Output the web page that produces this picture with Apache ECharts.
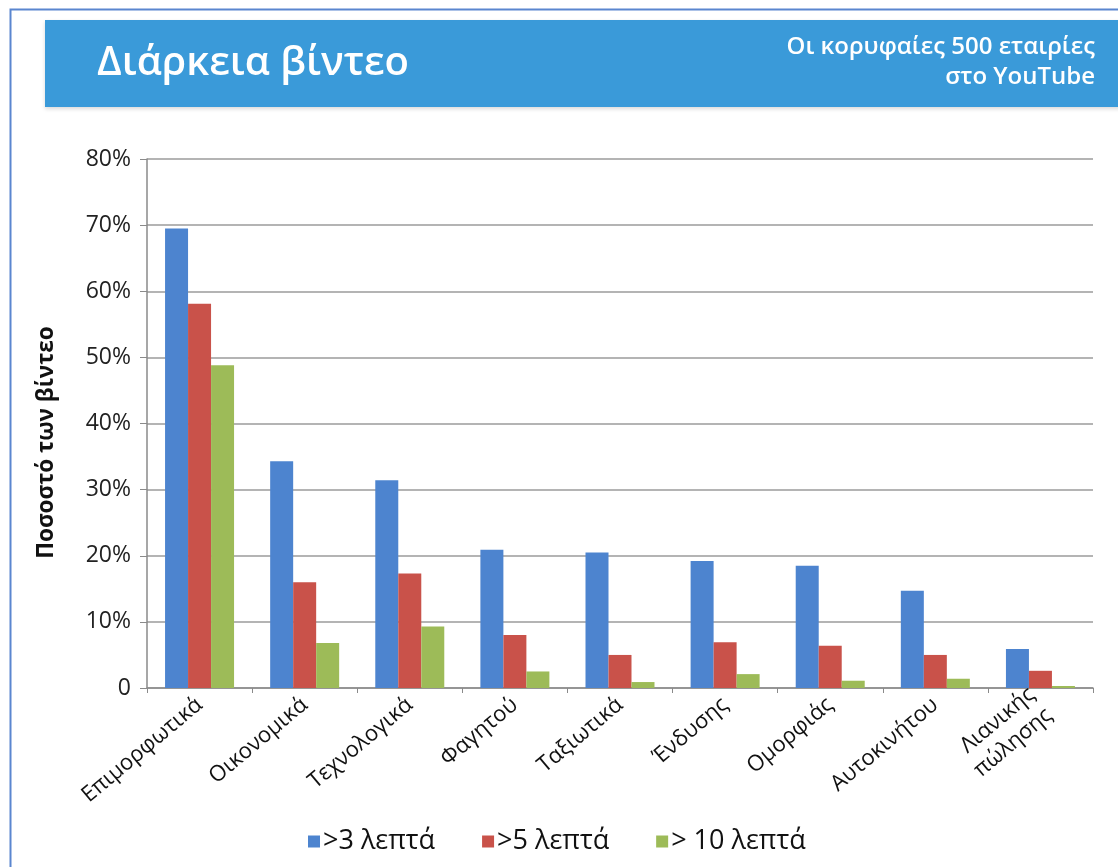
<!DOCTYPE html>
<html>
<head>
<meta charset="utf-8">
<script src="https://cdn.jsdelivr.net/npm/echarts@6/dist/echarts.min.js"></script>
<style>
  html, body { margin: 0; padding: 0; background: #ffffff; }
  #chart { width: 1118px; height: 867px; }
</style>
</head>
<body>
<div id="chart"></div>
<script>
// Video length by industry, top 500 companies on YouTube (share of videos, %)
const categories = ['Επιμορφωτικά', 'Οικονομικά', 'Τεχνολογικά', 'Φαγητού', 'Ταξιωτικά',
                    'Ένδυσης', 'Ομορφιάς', 'Αυτοκινήτου', 'Λιανικής\nπώλησης'];
const seriesNames = ['>3 λεπτά', '>5 λεπτά', '> 10 λεπτά'];
const over3min  = [69.5, 34.3, 31.4, 20.9, 20.5, 19.2, 18.5, 14.7, 5.9];
const over5min  = [58.1, 16.0, 17.3,  8.0,  5.0,  6.9,  6.4,  5.0, 2.6];
const over10min = [48.8,  6.8,  9.3,  2.5,  0.9,  2.1,  1.1,  1.4, 0.3];
const yTicks = [0, 10, 20, 30, 40, 50, 60, 70, 80];

const colors = ['#4d84cf', '#c9524a', '#9dbb58'];
const font = '"Open Sans", "DejaVu Sans", sans-serif';

const chart = echarts.init(document.getElementById('chart'), null, { renderer: 'canvas' });

const values = [over3min, over5min, over10min];

chart.setOption({
  animation: false,
  backgroundColor: '#ffffff',
  color: colors,
  textStyle: { fontFamily: font },
  graphic: [
    { type: 'rect', left: 8, top: 7, shape: { width: 1200, height: 1000 },
      style: { fill: 'none', stroke: '#5a86cf', lineWidth: 2 }, z: 0 },
    { type: 'rect', left: 45, top: 20, shape: { width: 1100, height: 87 },
      style: { fill: '#3a9ad9', shadowColor: 'rgba(0,0,0,0.15)', shadowBlur: 4, shadowOffsetY: 2 }, z: 1 },
    { type: 'text', left: 97, top: 44, z: 2,
      style: { text: 'Διάρκεια βίντεο', fill: '#ffffff', font: '600 40px ' + font } },
    { type: 'text', right: 23, top: 35, z: 2,
      style: { text: 'Οι κορυφαίες 500 εταιρίες', fill: '#ffffff', font: '600 24px ' + font } },
    { type: 'text', right: 23, top: 65, z: 2,
      style: { text: 'στο YouTube', fill: '#ffffff', font: '600 24px ' + font } }
  ],
  legend: {
    top: 823,
    left: 303,
    itemWidth: 12,
    itemHeight: 12,
    itemGap: 47,
    icon: 'rect',
    textStyle: { fontSize: 27, color: '#111', fontFamily: font, padding: [0, 0, 0, -2] },
    data: seriesNames
  },
  grid: { left: 147, right: 25, top: 159, bottom: 179, containLabel: false },
  xAxis: {
    type: 'category',
    data: categories,
    axisLine: { lineStyle: { color: '#8a8a8a', width: 1.5 } },
    axisTick: { show: true, length: 5, lineStyle: { color: '#8a8a8a' } },
    axisLabel: {
      rotate: 40, fontSize: 22, color: '#111', margin: 14,
      lineHeight: 27, fontFamily: font
    }
  },
  yAxis: {
    type: 'value',
    min: 0, max: 80, interval: 10,
    name: 'Ποσοστό των βίντεο',
    nameLocation: 'middle',
    nameGap: 89,
    nameTextStyle: { fontSize: 22.5, fontWeight: 'bold', color: '#111', fontFamily: font,
                     padding: [0, 38, 0, 0] },
    axisLine: { show: true, lineStyle: { color: '#8a8a8a', width: 1.5 } },
    axisTick: { show: true, length: 7, lineStyle: { color: '#8a8a8a' } },
    axisLabel: {
      fontSize: 23, color: '#222', margin: 16, fontFamily: font,
      formatter: v => (yTicks.includes(v) ? (v === 0 ? '0' : v + '%') : '')
    },
    splitLine: { show: true, lineStyle: { color: '#b4b4b4', width: 2 } }
  },
  series: seriesNames.map((name, i) => ({
    name,
    type: 'bar',
    data: values[i],
    barWidth: 23,
    barGap: '0%',
    itemStyle: { color: colors[i] }
  }))
});
</script>
</body>
</html>
